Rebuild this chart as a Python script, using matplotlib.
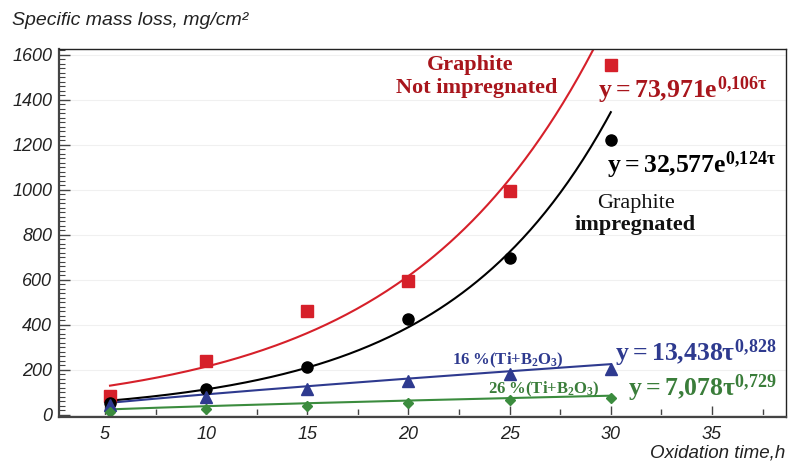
import numpy as np
import matplotlib
matplotlib.use('Agg')
from matplotlib import pyplot as plt
from matplotlib.ticker import MultipleLocator

# Oxidation time, h
t_pts = [5.25, 10, 15, 20, 25, 30]

# Specific mass loss, mg/cm2
graphite_not_impr = [81, 240, 459, 592, 996, 1556]
graphite_impr = [52, 114, 213, 425, 696, 1222]
ti_b2o3_16 = [44, 79, 114, 148, 182, 203]
ti_b2o3_26 = [12, 27, 40, 52, 64, 74]

# trend line coefficients as printed on the chart
red_a, red_b = 73.971, 0.106      # y = a*exp(b*t)
black_a, black_b = 32.577, 0.124  # y = a*exp(b*t)
blue_a, blue_b = 13.438, 0.828    # y = a*t^b
green_a, green_b = 7.078, 0.729   # y = a*t^b

plt.rcParams['mathtext.fontset'] = 'custom'
plt.rcParams['mathtext.rm'] = 'Liberation Serif:bold'
plt.rcParams['mathtext.it'] = 'Liberation Serif:bold'
plt.rcParams['mathtext.bf'] = 'Liberation Serif:bold'

RED = '#d6202a'
DRED = '#a8151c'
BLUE = '#2e3a8f'
GREEN = '#3b8c3e'
DGREEN = '#3a7d3a'

fig = plt.figure(figsize=(7.9, 4.62), dpi=100)
ax = fig.add_axes([0.0747, 0.098, 0.9203, 0.796])

tt = np.linspace(t_pts[0], t_pts[-1], 200)
ax.plot(tt, red_a * np.exp(red_b * tt), color=RED, lw=1.5)
ax.plot(tt, black_a * np.exp(black_b * tt), color='black', lw=1.5)
ax.plot(tt, blue_a * tt ** blue_b, color=BLUE, lw=1.5)
ax.plot(tt, green_a * tt ** green_b, color=GREEN, lw=1.5)

ax.plot(t_pts, graphite_not_impr, 's', color=RED, ms=8.5, ls='none')
ax.plot(t_pts, graphite_impr, 'o', color='black', ms=8, ls='none')
ax.plot(t_pts, ti_b2o3_16, '^', color=BLUE, ms=8, ls='none')
ax.plot(t_pts, ti_b2o3_26, 'D', color=GREEN, ms=5, ls='none')

ax.set_xlim(2.73, 38.66)
ax.set_ylim(-9, 1625)

ax.xaxis.set_major_locator(MultipleLocator(5))
ax.xaxis.set_minor_locator(MultipleLocator(2.5))
ax.yaxis.set_major_locator(MultipleLocator(200))
ax.yaxis.set_minor_locator(MultipleLocator(20))
ax.tick_params(axis='both', which='both', direction='in', color='#444444')
ax.tick_params(axis='x', which='major', length=8, width=1, pad=7)
ax.tick_params(axis='x', which='minor', length=6, width=1)
ax.tick_params(axis='y', which='major', length=8, width=1, pad=5)
ax.tick_params(axis='y', which='minor', length=4, width=0.8)
ax.tick_params(top=False, right=False, which='both')

for lab in ax.get_xticklabels() + ax.get_yticklabels():
    lab.set_fontfamily('Liberation Sans')
    lab.set_fontstyle('italic')
    lab.set_fontsize(13)
    lab.set_color('#222222')

ax.grid(axis='y', which='major', color='#f0f0f0', lw=0.8)
ax.set_axisbelow(True)
for s in ['left', 'bottom']:
    ax.spines[s].set_color('#444444')
    ax.spines[s].set_linewidth(1.6)
for s in ['top', 'right']:
    ax.spines[s].set_color('#222222')
    ax.spines[s].set_linewidth(1.0)

fig.text(0.015, 0.955, 'Specific mass loss, mg/cm²', fontfamily='Liberation Sans',
         fontstyle='italic', fontsize=14, color='#222222', va='center')
fig.text(0.994, 0.0, 'Oxidation time,h', fontfamily='Liberation Sans',
         fontstyle='italic', fontsize=13.5, color='#222222', ha='right', va='bottom')

serif = dict(fontfamily='Liberation Serif', fontweight='bold')
kw = dict(transform=ax.transAxes, va='center')
ax.text(0.565, 0.956, 'Graphite', ha='center', color=DRED, fontsize=16, **kw, **serif)
ax.text(0.574, 0.894, 'Not impregnated', ha='center', color=DRED, fontsize=16,
        **kw, **serif)
ax.text(0.741, 0.888, r'$y=73{,}971e^{0{,}106\tau}$', ha='left', color=DRED,
        fontsize=18.5, **kw)
ax.text(0.754, 0.684, r'$y=32{,}577e^{0{,}124\tau}$', ha='left', color='black',
        fontsize=18.5, **kw)
ax.text(0.794, 0.581, 'Graphite', ha='center', color='#111111', fontsize=16,
        fontfamily='Liberation Serif', **kw)
ax.text(0.792, 0.521, 'impregnated', ha='center', color='#111111', fontsize=16,
        **kw, **serif)
ax.text(0.618, 0.154, r'16 %(Ti+B$_2$O$_3$)', ha='center', color=BLUE, fontsize=12,
        **kw, **serif)
ax.text(0.765, 0.173, r'$y=13{,}438\tau^{0{,}828}$', ha='left', color=BLUE,
        fontsize=18.5, **kw)
ax.text(0.667, 0.075, r'26 %(Ti+B$_2$O$_3$)', ha='center', color=DGREEN, fontsize=12,
        **kw, **serif)
ax.text(0.782, 0.078, r'$y=7{,}078\tau^{0{,}729}$', ha='left', color=DGREEN,
        fontsize=18.5, **kw)

fig.savefig('out.png', dpi=100)
